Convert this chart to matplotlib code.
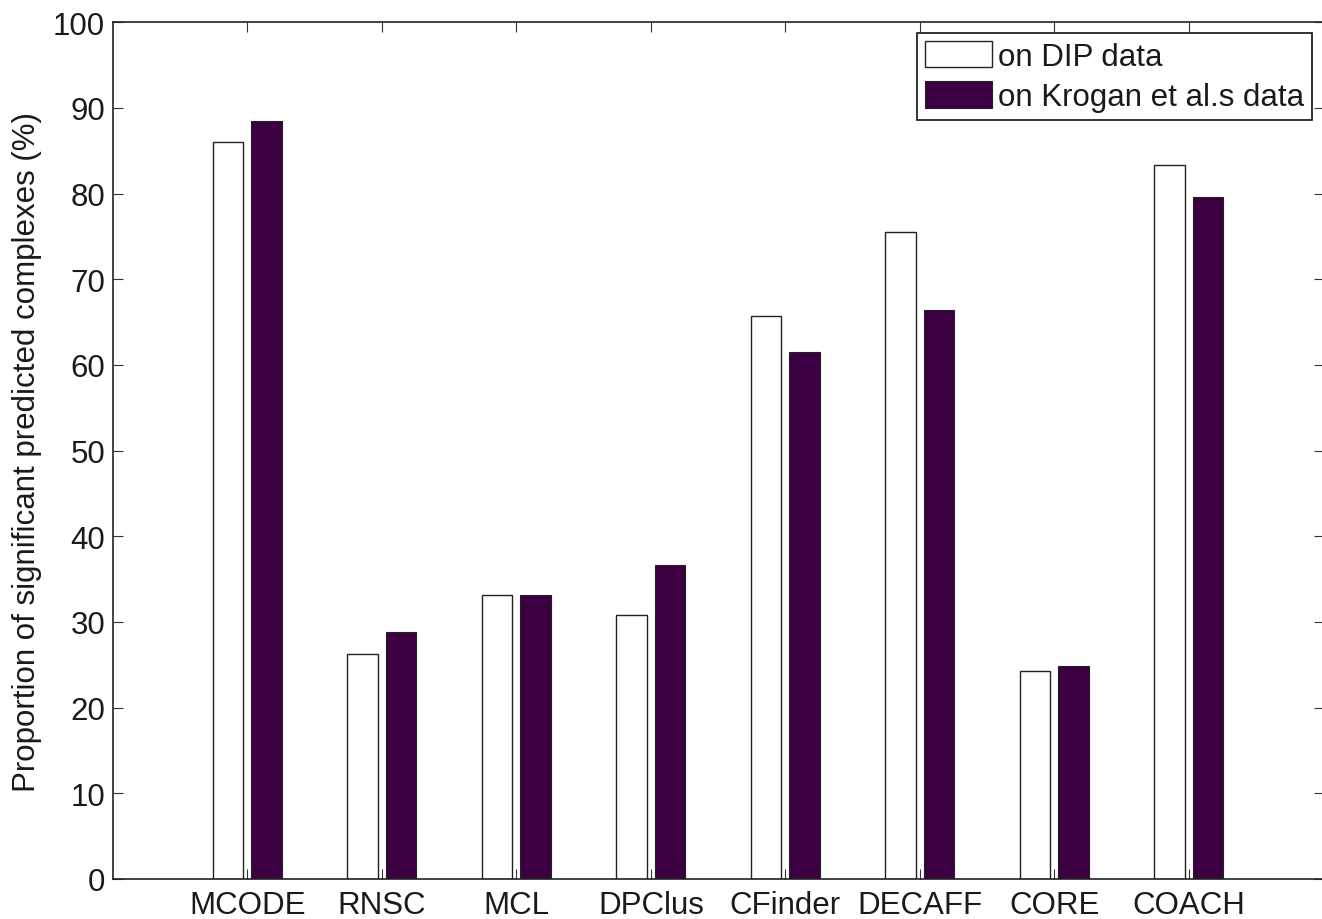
import matplotlib
matplotlib.use("Agg")
import matplotlib.pyplot as plt
import numpy as np

categories = ["MCODE", "RNSC", "MCL", "DPClus", "CFinder", "DECAFF", "CORE", "COACH"]
dip_values = [86.0, 26.3, 33.2, 30.8, 65.7, 75.5, 24.3, 83.4]
krogan_values = [88.5, 28.8, 33.15, 36.7, 61.5, 66.4, 24.85, 79.6]
series_labels = ["on DIP data", "on Krogan et al.s data"]
y_ticks = [0, 10, 20, 30, 40, 50, 60, 70, 80, 90, 100]

plt.rcParams['font.family'] = ['Liberation Sans', 'DejaVu Sans']

W, H = 1322, 920
fig = plt.figure(figsize=(W / 100, H / 100), dpi=100)
left, right, top, bottom = 112.7, 1323.5, 23.3, 880.0
ax = fig.add_axes([left / W, 1 - bottom / H, (right - left) / W, (bottom - top) / H])

x = np.arange(1, len(categories) + 1)
bw = 0.227
off = 0.143
purple = '#3C0042'
ax.bar(x - off, dip_values, bw, color='white', edgecolor='#222222', linewidth=1.0,
       label=series_labels[0])
ax.bar(x + off, krogan_values, bw, color=purple, edgecolor='#222222', linewidth=0.8,
       label=series_labels[1])

fs = 22.5
ax.set_xlim(0, 9)
ax.set_ylim(0, 100)
ax.set_xticks(x)
ax.set_xticklabels(categories, fontsize=fs)
ax.set_yticks(y_ticks)
ax.set_yticklabels([str(t) for t in y_ticks], fontsize=fs)
ax.tick_params(direction='in', length=7, width=0.8, top=True, right=True,
               colors='#333333', labelcolor='#1a1a1a')
ax.tick_params(axis='y', pad=5.5)
ax.tick_params(axis='x', pad=8)
for s in ax.spines.values():
    s.set_linewidth(1.2)
    s.set_color('#222222')
ax.set_ylabel("Proportion of significant predicted complexes (%)", fontsize=fs, color='#1a1a1a',
              labelpad=8)

leg = ax.legend(loc='upper right', bbox_to_anchor=(1312 / W, 1 - 34.3 / H),
                bbox_transform=fig.transFigure, fontsize=fs, fancybox=False,
                framealpha=1, edgecolor='#111111', handlelength=2.15, handleheight=0.92,
                handletextpad=0.2, labelspacing=0.3, borderpad=0.25, borderaxespad=0)
leg.get_frame().set_linewidth(1.2)
for t in leg.get_texts():
    t.set_color('#1a1a1a')

fig.savefig("out.png", dpi=100)
